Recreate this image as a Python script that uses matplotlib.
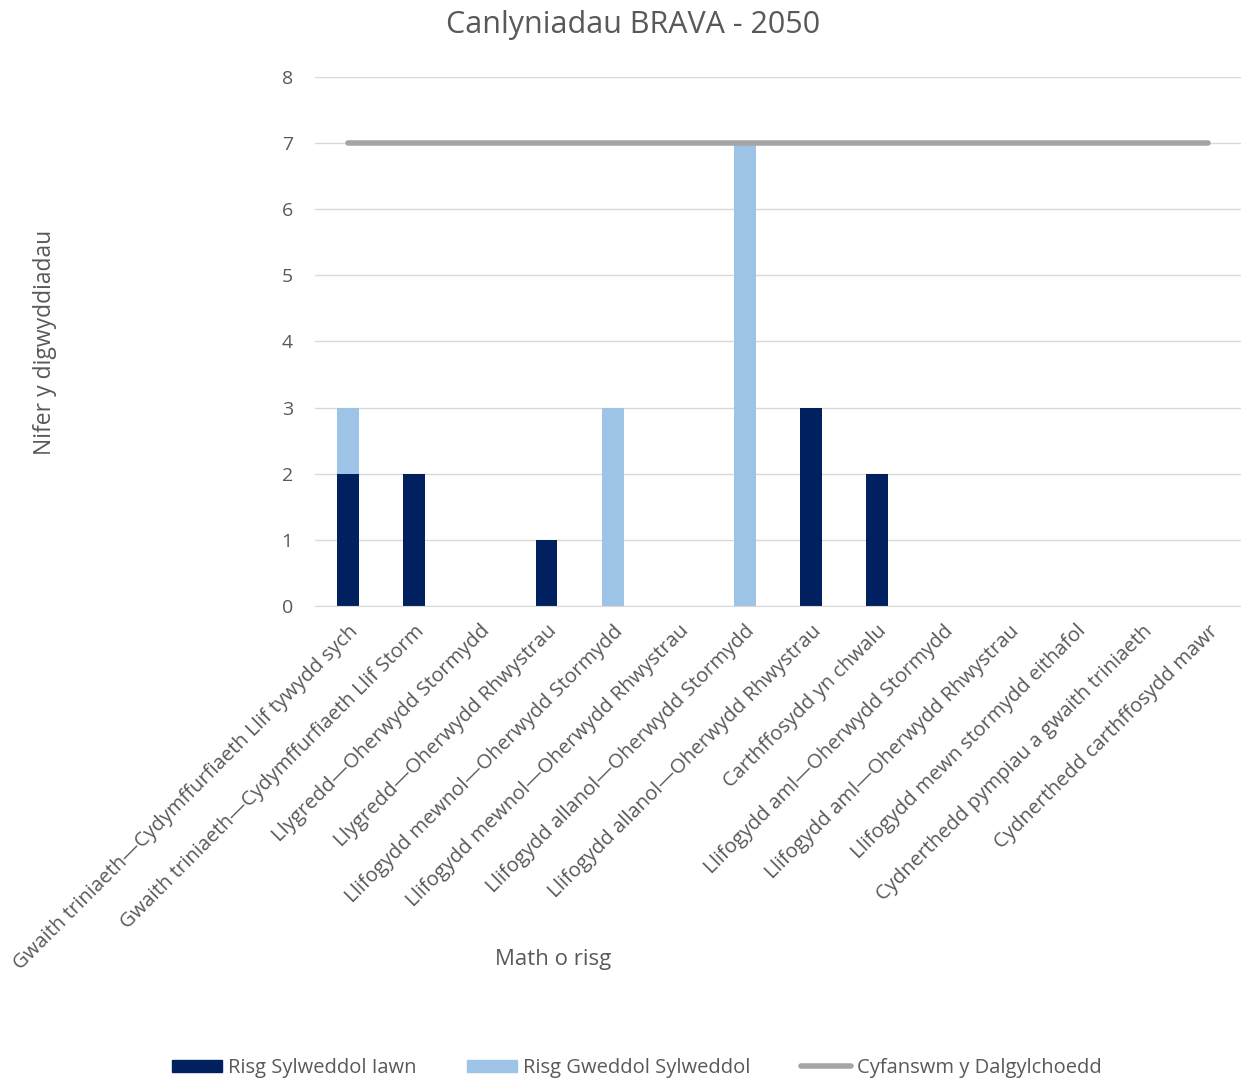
import matplotlib
matplotlib.use("Agg")
from matplotlib import pyplot as plt
from matplotlib.patches import Patch
from matplotlib.lines import Line2D
import numpy as np

plt.rcParams['font.family'] = ['Open Sans', 'DejaVu Sans']

categories = [
    "Gwaith triniaeth\u2014Cydymffurfiaeth Llif tywydd sych",
    "Gwaith triniaeth\u2014Cydymffurfiaeth Llif Storm",
    "Llygredd\u2014Oherwydd Stormydd",
    "Llygredd\u2014Oherwydd Rhwystrau",
    "Llifogydd mewnol\u2014Oherwydd Stormydd",
    "Llifogydd mewnol\u2014Oherwydd Rhwystrau",
    "Llifogydd allanol\u2014Oherwydd Stormydd",
    "Llifogydd allanol\u2014Oherwydd Rhwystrau",
    "Carthffosydd yn chwalu",
    "Llifogydd aml\u2014Oherwydd Stormydd",
    "Llifogydd aml\u2014Oherwydd Rhwystrau",
    "Llifogydd mewn stormydd eithafol",
    "Cydnerthedd pympiau a gwaith triniaeth",
    "Cydnerthedd carthffosydd mawr",
]
risg_iawn = [2, 2, 0, 1, 0, 0, 0, 3, 2, 0, 0, 0, 0, 0]
risg_gweddol = [1, 0, 0, 0, 3, 0, 7, 0, 0, 0, 0, 0, 0, 0]
cyfanswm = [7] * 14

dark = '#002060'
light = '#9DC3E6'
grey = '#A5A5A5'
txt = '#595959'

fig = plt.figure(figsize=(12.41, 10.82), dpi=100)
ax = fig.add_axes([315 / 1241, 1 - 606 / 1082, 926 / 1241, (606 - 77) / 1082])

x = np.arange(len(categories))
ax.bar(x, risg_iawn, width=0.33, color=dark, zorder=2)
ax.bar(x, risg_gweddol, width=0.33, bottom=risg_iawn, color=light, zorder=2)
ax.plot(x, cyfanswm, color=grey, linewidth=4, solid_capstyle='round', zorder=3)

ax.set_xlim(-0.5, len(categories) - 0.5)
ax.set_ylim(0, 8)
ax.set_yticks(range(9))
ax.yaxis.grid(True, color='#D9D9D9', linewidth=1)
ax.set_axisbelow(True)
for s in ['top', 'right', 'left']:
    ax.spines[s].set_visible(False)
ax.spines['bottom'].set_color('#D9D9D9')
ax.tick_params(axis='both', length=0, colors=txt, labelsize=14)
ax.tick_params(axis='y', pad=16)
ax.tick_params(axis='x', pad=11)
ax.set_xticks(x)
ax.set_xticklabels(categories, rotation=45, ha='right', rotation_mode='anchor',
                   fontsize=14.6, color=txt)

fig.text(633 / 1241, 1 - 25 / 1082, 'Canlyniadau BRAVA - 2050', ha='center',
         va='center', fontsize=22, color=txt)
fig.text(45 / 1241, 1 - 342 / 1082, 'Nifer y digwyddiadau', rotation=90,
         ha='center', va='center', fontsize=16.5, color=txt)
fig.text(553 / 1241, 1 - 960 / 1082, 'Math o risg', ha='center', va='center',
         fontsize=16, color=txt)

handles = [Patch(color=dark), Patch(color=light),
           Line2D([], [], color=grey, linewidth=4, solid_capstyle='round')]
labels = ['Risg Sylweddol Iawn', 'Risg Gweddol Sylweddol', 'Cyfanswm y Dalgylchoedd']
fig.legend(handles, labels, loc='center', bbox_to_anchor=(637 / 1241, 1 - 1068 / 1082),
           ncol=3, frameon=False, fontsize=14.5, labelcolor=txt, handlelength=2.5,
           handleheight=0.6, handletextpad=0.3, columnspacing=2.5)

fig.savefig('out.png', dpi=100)
